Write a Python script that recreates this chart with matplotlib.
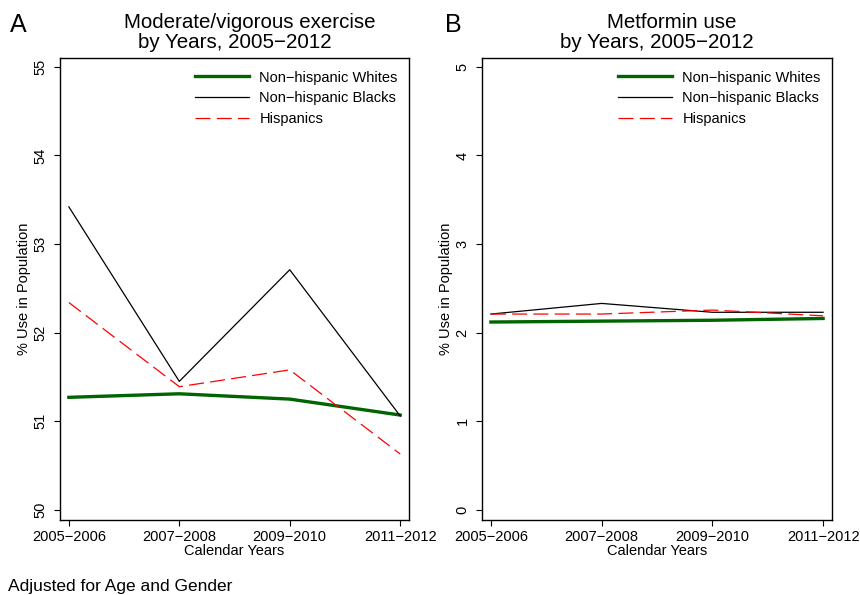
import matplotlib
matplotlib.use('Agg')
import matplotlib.pyplot as plt

plt.rcParams['font.family'] = ['Liberation Sans', 'DejaVu Sans']

# Data
years = ['2005\u22122006', '2007\u22122008', '2009\u22122010', '2011\u22122012']
groups = ['Non\u2212hispanic Whites', 'Non\u2212hispanic Blacks', 'Hispanics']

exercise_whites = [51.27, 51.31, 51.25, 51.07]
exercise_blacks = [53.42, 51.45, 52.71, 51.06]
exercise_hispanics = [52.34, 51.39, 51.58, 50.63]

metformin_whites = [2.12, 2.13, 2.14, 2.16]
metformin_blacks = [2.21, 2.33, 2.23, 2.23]
metformin_hispanics = [2.21, 2.21, 2.255, 2.19]

fig = plt.figure(figsize=(8.6, 5.95), dpi=100)
axA = fig.add_axes([0.0698, 0.126, 0.4058, 0.7765])
axB = fig.add_axes([0.5605, 0.126, 0.4069, 0.7765])


def draw(ax, whites, blacks, hisp, yticks, ylim):
    x = range(len(years))
    ax.plot(x, whites, color='#006400', lw=2.4, label=groups[0])
    ax.plot(x, blacks, color='black', lw=0.9, label=groups[1])
    ax.plot(x, hisp, color='red', lw=0.9, dashes=(12, 5), label=groups[2])
    ax.set_xlim(-0.08, 3.08)
    ax.set_ylim(*ylim)
    ax.set_xticks(list(x))
    ax.set_xticklabels(years, fontsize=10.5)
    ax.set_yticks(yticks)
    ax.set_yticklabels([str(t) for t in yticks], fontsize=10.5, rotation=90, va='center')
    ax.tick_params(direction='out', length=4, width=0.8, pad=3)
    ax.tick_params(axis='y', pad=5)
    for s in ax.spines.values():
        s.set_linewidth(1.0)
    ax.set_xlabel('Calendar Years', fontsize=10.5, labelpad=0)
    ax.set_ylabel('% Use in Population', fontsize=10.5, labelpad=2)
    ax.legend(loc='upper right', frameon=False, fontsize=10.5, handlelength=3.7,
              handletextpad=0.7, labelspacing=0.45, borderaxespad=0.3,
              bbox_to_anchor=(0.997, 0.995))


draw(axA, exercise_whites, exercise_blacks, exercise_hispanics,
     [50, 51, 52, 53, 54, 55], (49.885, 55.1))
draw(axB, metformin_whites, metformin_blacks, metformin_hispanics,
     [0, 1, 2, 3, 4, 5], (-0.115, 5.1))

# titles
fig.text(250 / 860, 1 - 22 / 595, 'Moderate/vigorous exercise', ha='center', va='center', fontsize=14.8)
fig.text(235 / 860, 1 - 43 / 595, 'by Years, 2005\u22122012', ha='center', va='center', fontsize=14.8)
fig.text(672 / 860, 1 - 22 / 595, 'Metformin use', ha='center', va='center', fontsize=14.8)
fig.text(657 / 860, 1 - 43 / 595, 'by Years, 2005\u22122012', ha='center', va='center', fontsize=14.8)

fig.text(10 / 860, 1 - 25 / 595, 'A', ha='left', va='center', fontsize=18)
fig.text(445 / 860, 1 - 25 / 595, 'B', ha='left', va='center', fontsize=18)

fig.text(8 / 860, 1 - 587 / 595, 'Adjusted for Age and Gender', ha='left', va='center', fontsize=12.5)

fig.savefig('out.png', dpi=100)
